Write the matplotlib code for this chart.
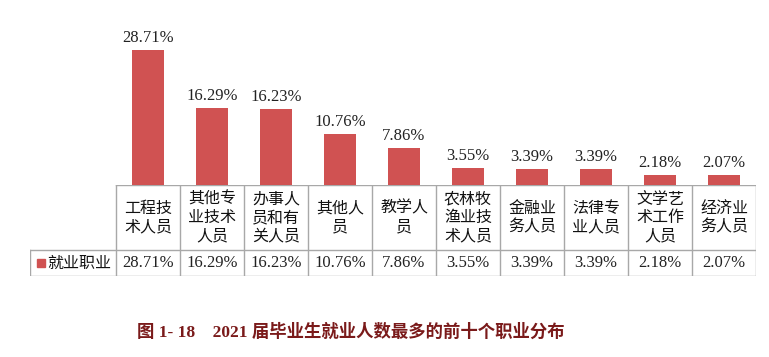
import matplotlib.pyplot as plt

# data
categories = ["工程技\n术人员", "其他专\n业技术\n人员", "办事人\n员和有\n关人员", "其他人\n员", "教学人\n员",
              "农林牧\n渔业技\n术人员", "金融业\n务人员", "法律专\n业人员", "文学艺\n术工作\n人员", "经济业\n务人员"]
values = [28.71, 16.29, 16.23, 10.76, 7.86, 3.55, 3.39, 3.39, 2.18, 2.07]
series_name = "就业职业"
caption = "图 1- 18　2021 届毕业生就业人数最多的前十个职业分布"

W, H = 769, 357
bar_color = "#D05252"
line_color = "#A8A8A8"
cjk = ["Noto Sans CJK SC", "DejaVu Sans"]
serif = ["Liberation Serif", "Noto Sans CJK SC"]

fig = plt.figure(figsize=(W / 100, H / 100), dpi=100)

def px_axes(x0, y0, x1, y1):
    # pixel box (top-left origin) -> figure axes
    return fig.add_axes([x0 / W, 1 - y1 / H, (x1 - x0) / W, (y1 - y0) / H])

# bars
ax = px_axes(116, 44, 756, 185)
x = range(len(values))
ax.bar(x, values, width=0.5, color=bar_color)
ax.set_xlim(-0.5, len(values) - 0.5)
ax.set_ylim(0, 30)
for i, v in enumerate(values):
    ax.annotate(f"{v:.2f}%", (i, v), xytext=(0, 3), textcoords="offset points",
                ha="center", va="bottom", fontsize=12, family=serif, color="#222222")
ax.axis("off")

# data table
tab = px_axes(30, 185, 756, 276)
left = -0.5 - (116 - 30) / 64.0
tab.set_xlim(left, len(values) - 0.5)
tab.set_ylim(0, 91)
tab.axis("off")
row = 26
for b in [i - 0.5 for i in range(len(values) + 1)]:
    tab.plot([b, b], [0, 91], color=line_color, lw=1)
tab.plot([-0.5, len(values) - 0.5], [91, 91], color=line_color, lw=1)
tab.plot([left, len(values) - 0.5], [row, row], color=line_color, lw=1)
tab.plot([left, len(values) - 0.5], [0, 0], color=line_color, lw=1)
tab.plot([left, left], [0, row], color=line_color, lw=1)

for i, (c, v) in enumerate(zip(categories, values)):
    tab.text(i, (91 + row) / 2, c, ha="center", va="center", fontsize=11.5,
             family=cjk, linespacing=1.1, color="#111111")
    tab.text(i, row / 2, f"{v:.2f}%", ha="center", va="center", fontsize=12,
             family=serif, color="#222222")

tab.plot([left + 0.17], [row / 2], marker="s", ms=6, color=bar_color, clip_on=False)
tab.text(left + 0.27, row / 2, series_name, ha="left", va="center", fontsize=11.5,
         family=cjk, color="#111111")

fig.text(351 / W, 1 - 332 / H, caption, ha="center", va="center", fontsize=12.5,
         fontweight="bold", family=serif, color="#7A1A1A")

fig.savefig("out.png", dpi=100, facecolor="white")
